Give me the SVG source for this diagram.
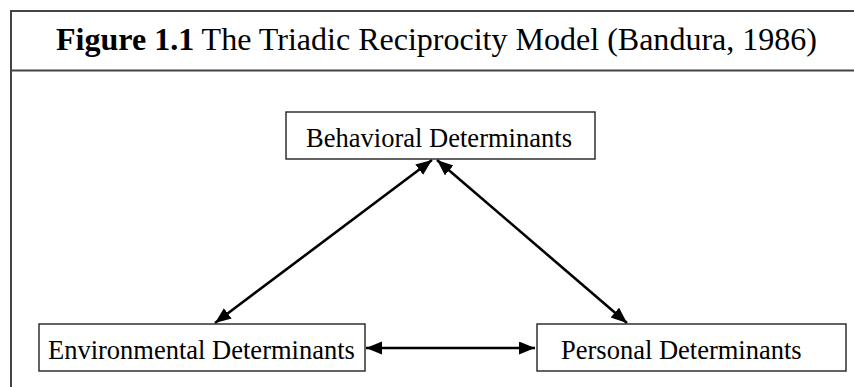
<svg xmlns="http://www.w3.org/2000/svg" width="854" height="387" viewBox="0 0 854 387">
  <style>
    .frame { fill: none; stroke: #444; stroke-width: 2; }
    .box { fill: #fff; stroke: #222; stroke-width: 1.4; }
    .label { font-family: "Liberation Serif", "Times New Roman", serif; font-size: 26.5px; fill: #000; }
    .title { font-family: "Liberation Serif", "Times New Roman", serif; font-size: 32px; fill: #000; }
    .link { fill: none; stroke: #000; stroke-width: 2.6; marker-start: url(#head); marker-end: url(#head); }
  </style>
  <defs>
    <marker id="head" markerUnits="userSpaceOnUse" markerWidth="17" markerHeight="14" refX="16" refY="6.5" orient="auto-start-reverse">
      <path d="M0,0 L16,6.5 L0,13 z" fill="#000"/>
    </marker>
  </defs>

  <rect width="854" height="387" fill="#fff"/>

  <!-- outer frame and title band -->
  <g id="frame">
    <path class="frame" d="M855,11 H11 V388"/>
    <line class="frame" x1="11" y1="70.5" x2="855" y2="70.5"/>
    <text class="title" x="56" y="50" textLength="761" lengthAdjust="spacingAndGlyphs"><tspan font-weight="bold">Figure 1.1</tspan> The Triadic Reciprocity Model (Bandura, 1986)</text>
  </g>

  <!-- reciprocal links -->
  <g id="connectors">
    <line class="link" x1="432" y1="160" x2="215" y2="323"/>
    <line class="link" x1="437" y1="160" x2="627" y2="323"/>
    <line class="link" x1="366" y1="348" x2="535" y2="348"/>
  </g>

  <g id="behavioral">
    <rect class="box" x="286" y="112" width="309" height="47"/>
    <text class="label" x="306" y="147" textLength="266" lengthAdjust="spacingAndGlyphs">Behavioral Determinants</text>
  </g>

  <g id="environmental">
    <rect class="box" x="39" y="324" width="326" height="47"/>
    <text class="label" x="48" y="359">Environmental Determinants</text>
  </g>

  <g id="personal">
    <rect class="box" x="537" y="324" width="309" height="47"/>
    <text class="label" x="561" y="359">Personal Determinants</text>
  </g>
</svg>
